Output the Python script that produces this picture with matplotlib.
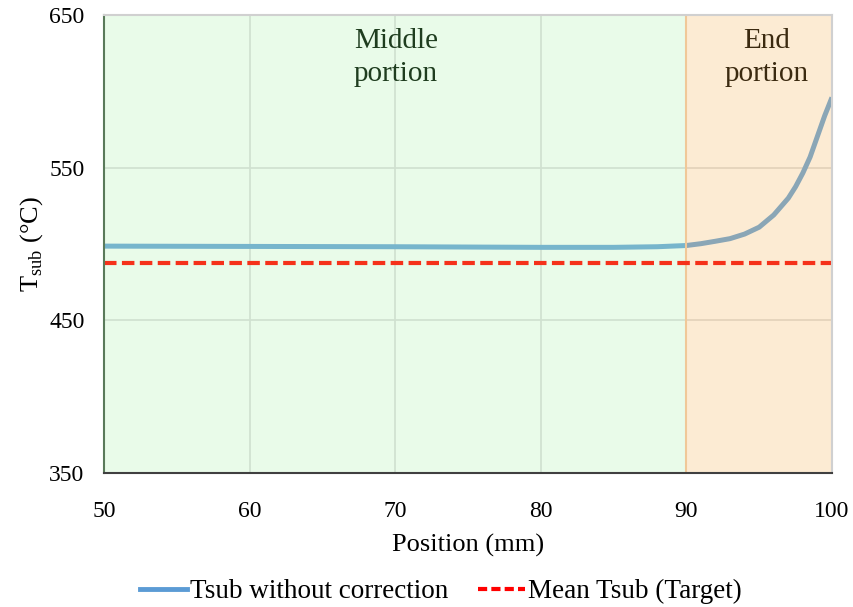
import matplotlib
matplotlib.use("Agg")
import matplotlib.pyplot as plt
from matplotlib.lines import Line2D

plt.rcParams['font.family'] = ['Liberation Serif', 'DejaVu Serif']

position = [50, 55, 60, 65, 70, 75, 80, 85, 88, 90, 91, 92, 93, 94, 95, 96,
            97, 97.5, 98, 98.5, 99, 99.5, 100]
tsub_no_corr = [498.6, 498.5, 498.4, 498.3, 498.2, 498.0, 497.8, 497.8, 498.2, 499.0,
                500.2, 501.8, 503.5, 506.5, 511.0, 519.0, 530.0, 537.5, 546.5, 557.0,
                570.5, 584.0, 596.0]
mean_target = 487.8
region_bounds = [50, 90, 100]
region_labels = ["Middle\nportion", "End\nportion"]
xticks = [50, 60, 70, 80, 90, 100]
yticks = [350, 450, 550, 650]

fig = plt.figure(figsize=(8.54, 6.07), dpi=100)
ax = fig.add_axes([0.1218, 0.2208, 0.8524, 0.7545])

ax.set_xlim(50, 100)
ax.set_ylim(350, 650)
ax.set_xticks(xticks)
ax.set_yticks(yticks)
ax.grid(True, color='#d9d9d9', lw=1.2, zorder=0.5)
ax.set_axisbelow(True)

ax.plot(position, tsub_no_corr, color='#5b9bd5', lw=3.6, zorder=1,
        solid_capstyle='butt', solid_joinstyle='round')

ax.axvspan(region_bounds[0], region_bounds[1], color=(185/255, 242/255, 185/255),
           alpha=0.3, lw=0, zorder=1.5)
ax.axvspan(region_bounds[1], region_bounds[2], color=(248/255, 192/255, 112/255),
           alpha=0.3, lw=0, zorder=1.5)
ax.axvline(region_bounds[1], color='#f0c898', lw=1.5, zorder=1.6)

ax.plot([region_bounds[0], region_bounds[2]], [mean_target, mean_target],
        color='#f5311a', lw=3, ls=(0, (3.0, 1.3)), zorder=2.5)

ax.text(70.05, 641.5, region_labels[0], ha='center', va='top', fontsize=21,
        color='#1f3d1f', linespacing=1.35, zorder=3)
ax.text(95.5, 641.5, region_labels[1], ha='center', va='top', fontsize=21,
        color='#3b2a10', linespacing=1.35, zorder=3)

for s in ['top', 'right']:
    ax.spines[s].set_color('#d0d0d0')
    ax.spines[s].set_linewidth(1.5)
ax.spines['left'].set_color('#5a7a5a')
ax.spines['left'].set_linewidth(1.5)
ax.spines['bottom'].set_color('#404040')
ax.spines['bottom'].set_linewidth(1.5)

ax.tick_params(axis='both', length=0, labelsize=17)
ax.tick_params(axis='y', pad=14)
ax.tick_params(axis='x', pad=20)
ax.set_xlabel("Position (mm)", fontsize=19, labelpad=9)
ax.set_ylabel("T$_{\\mathregular{sub}}$ (°C)", fontsize=19, labelpad=3)

h1 = Line2D([], [], color='#5b9bd5', lw=3.5)
h2 = Line2D([], [], color='#ff0000', lw=3, ls=(0, (2.2, 1.0)))
fig.legend([h1, h2], ["Tsub without correction", "Mean Tsub (Target)"],
           loc='center', bbox_to_anchor=(0.516, 0.025), ncol=2, frameon=False,
           fontsize=19.5, handlelength=1.75, handletextpad=0.1, columnspacing=1.1)

fig.savefig("out.png", dpi=100)
